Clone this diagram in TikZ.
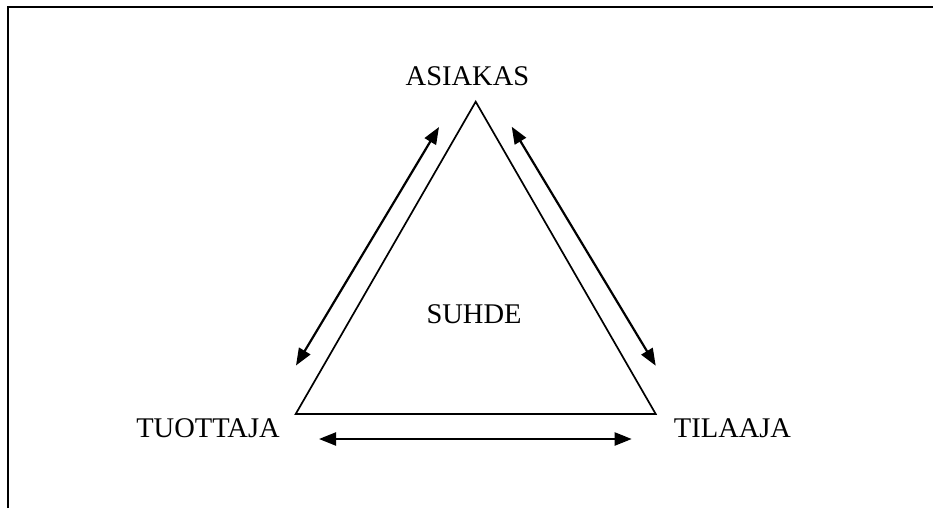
\documentclass[tikz,border=0pt]{standalone}
\usepackage{fontspec}
\setmainfont{Liberation Serif}
\usetikzlibrary{arrows.meta}
\begin{document}
\begin{tikzpicture}[x=1pt,y=-1pt,
  lbl/.style={font=\fontsize{28.5}{34}\selectfont, inner sep=0pt, anchor=center},
  frameline/.style={line width=2.6pt},
  tri/.style={line width=1.7pt, line join=miter},
  dblarrow/.style={line width=2.2pt, {Triangle[length=17pt,width=13pt]}-{Triangle[length=17pt,width=13pt]}}]
\useasboundingbox (0,0) rectangle (933,508);
% frame (top and left edges)
\draw[frameline] (8,508) -- (8,7) -- (933,7);
% triangle
\coordinate (apex) at (475.7,101.7);
\coordinate (bl) at (295.7,414);
\coordinate (br) at (655.7,414);
\draw[tri] (apex) -- (br) -- (bl) -- cycle;
% labels
\node[lbl] (asiakas) at (467.5,76) {ASIAKAS};
\node[lbl] (tuottaja) at (208,428) {TUOTTAJA};
\node[lbl] (tilaaja) at (732.5,428) {TILAAJA};
\node[lbl] (suhde) at (474,314) {SUHDE};
% arrows
\coordinate (la1) at (439,127);
\coordinate (la2) at (296,365.5);
\coordinate (ra1) at (511.7,126.7);
\coordinate (ra2) at (655.7,365.7);
\coordinate (ba1) at (319,439);
\coordinate (ba2) at (631.7,439);
\draw[dblarrow] (la1) -- (la2);
\draw[dblarrow] (ra1) -- (ra2);
\draw[dblarrow] (ba1) -- (ba2);
\end{tikzpicture}
\end{document}
